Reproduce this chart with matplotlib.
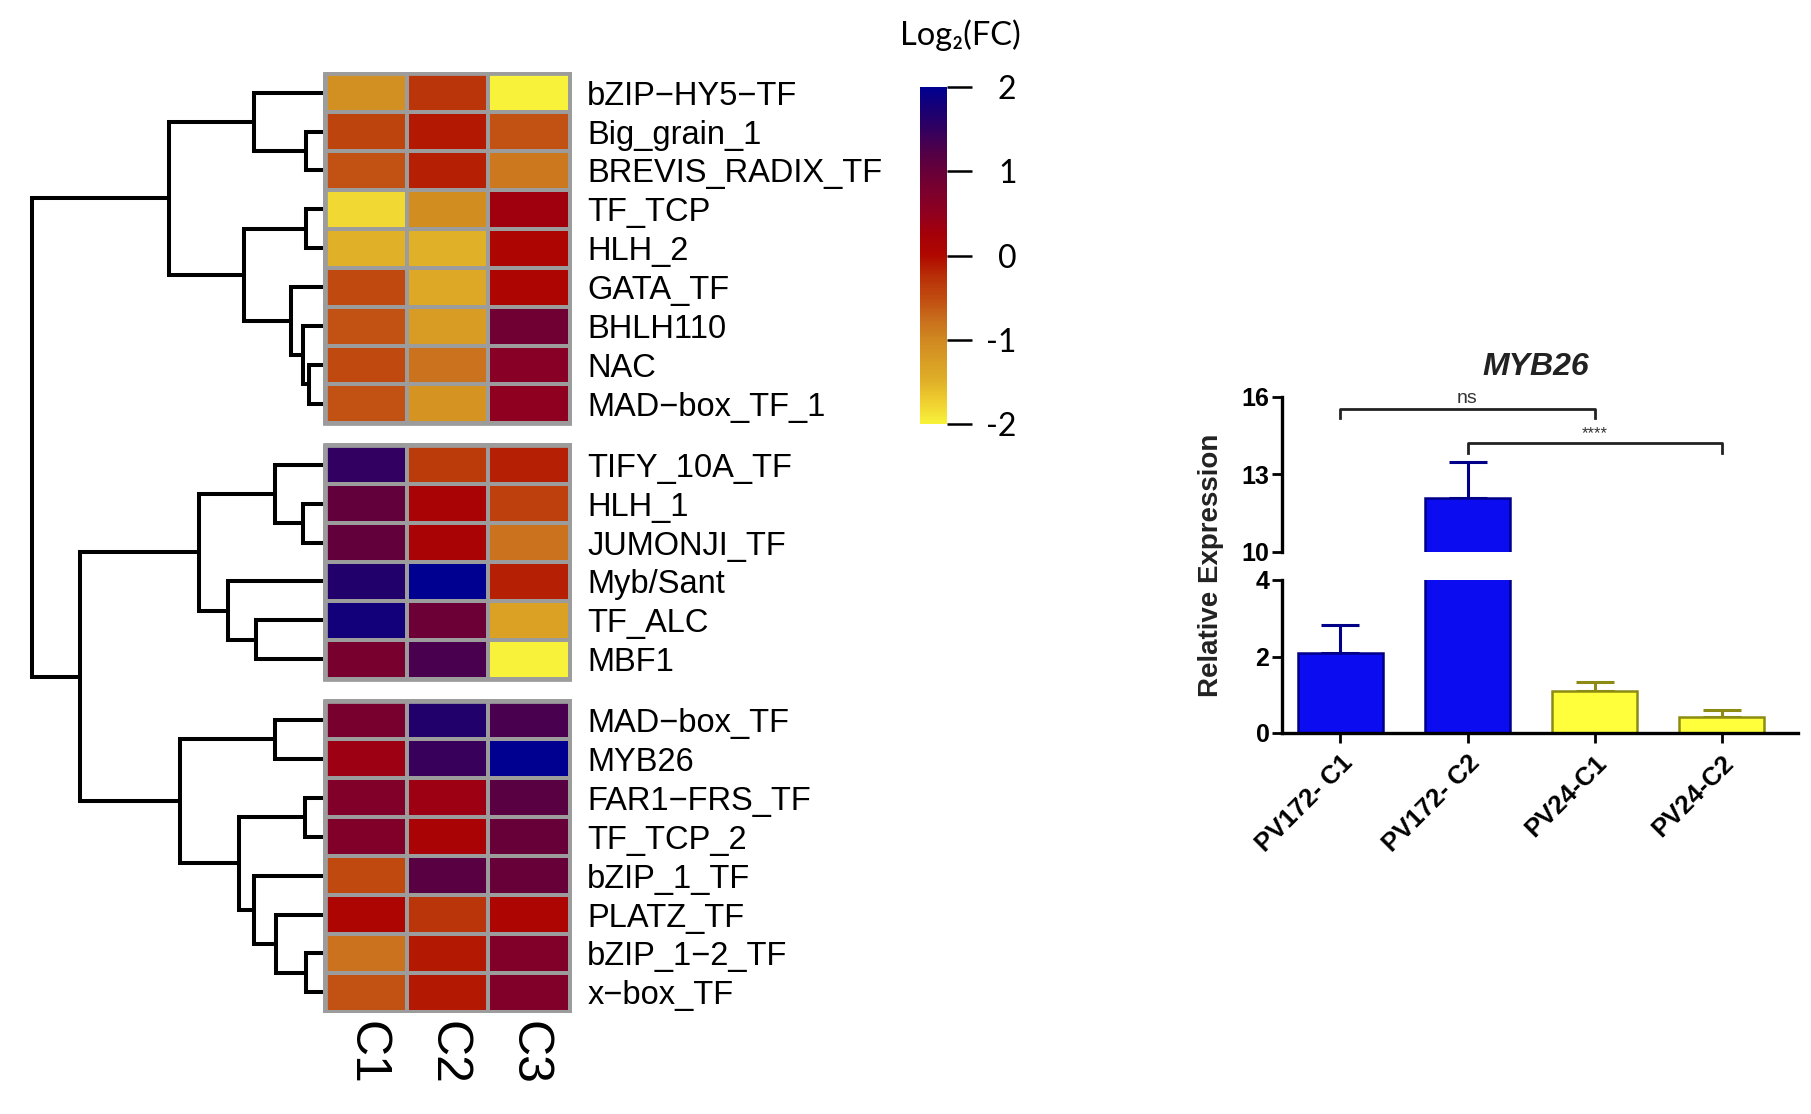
import numpy as np
import matplotlib
matplotlib.use("Agg")
import matplotlib.pyplot as plt
from matplotlib.colors import LinearSegmentedColormap, Normalize
from matplotlib.patches import Rectangle
import matplotlib.cm as cm

plt.rcParams['axes.unicode_minus'] = False

# ---- heatmap data (log2 FC) ----
genes = ['bZIP\u2212HY5\u2212TF', 'Big_grain_1', 'BREVIS_RADIX_TF', 'TF_TCP', 'HLH_2',
         'GATA_TF', 'BHLH110', 'NAC', 'MAD\u2212box_TF_1',
         'TIFY_10A_TF', 'HLH_1', 'JUMONJI_TF', 'Myb/Sant', 'TF_ALC', 'MBF1',
         'MAD\u2212box_TF', 'MYB26', 'FAR1\u2212FRS_TF', 'TF_TCP_2', 'bZIP_1_TF',
         'PLATZ_TF', 'bZIP_1\u22122_TF', 'x\u2212box_TF']
cols = ['C1', 'C2', 'C3']
c1 = [-1.1, -0.45, -0.55, -1.8, -1.5, -0.5, -0.55, -0.5, -0.55,
      1.5, 1.05, 1.05, 1.65, 1.8, 0.8,
      0.8, 0.35, 0.7, 0.7, -0.5, 0.05, -0.8, -0.55]
c2 = [-0.3, -0.1, -0.15, -1.05, -1.5, -1.4, -1.25, -0.8, -1.15,
      -0.35, 0.15, 0.15, 2.0, 0.95, 1.3,
      1.65, 1.45, 0.35, 0.15, 1.15, -0.3, -0.1, -0.1]
c3 = [-2.0, -0.55, -0.85, 0.3, 0.05, 0.05, 0.9, 0.6, 0.5,
      -0.15, -0.4, -0.8, -0.15, -1.3, -2.0,
      1.3, 2.0, 1.15, 1.0, 1.0, 0.05, 0.7, 0.7]
group_sizes = [9, 6, 8]

# dendrogram merges: (child a, child b, height); leaves 0..22, new nodes 23..
merges = [(7, 8, 14), (6, 23, 20), (5, 24, 32), (3, 4, 17), (26, 25, 79),
          (1, 2, 17), (0, 28, 69), (29, 27, 154),
          (10, 11, 20), (9, 31, 48), (13, 14, 67), (12, 33, 95), (32, 34, 124),
          (21, 22, 17), (20, 36, 47), (19, 37, 69), (17, 18, 18), (39, 38, 84),
          (15, 16, 48), (41, 40, 143), (35, 42, 243), (30, 43, 291)]

# ---- bar chart data ----
samples = ['PV172- C1', 'PV172- C2', 'PV24-C1', 'PV24-C2']
means = [2.1, 12.1, 1.1, 0.43]
err_up = [0.72, 1.4, 0.24, 0.16]

W, H = 1811, 1114
fig = plt.figure(figsize=(W/100, H/100), dpi=100)

def px_axes(x0, y0, x1, y1):
    return fig.add_axes([x0/W, 1 - y1/H, (x1-x0)/W, (y1-y0)/H])

anchors = [(-2.0, '#f8f23a'), (-1.75, '#f0d030'), (-1.5, '#e0b028'), (-1.0, '#d08820'),
           (-0.75, '#c86c1c'), (-0.5, '#c04a10'), (-0.25, '#b83008'), (0.0, '#b00800'),
           (0.25, '#a40008'), (0.5, '#900020'), (0.75, '#7c002c'), (1.0, '#680038'),
           (1.25, '#500048'), (1.5, '#320060'), (1.75, '#180074'), (2.0, '#000090')]
cmap = LinearSegmentedColormap.from_list('fc', [((v+2)/4, c) for v, c in anchors])
norm = Normalize(-2, 2)

gap = 0.56
total = len(genes) + gap*(len(group_sizes)-1)
vals = np.array([c1, c2, c3]).T

# row positions with gaps
row_y = []
start = 0
for gi, n in enumerate(group_sizes):
    for i in range(n):
        row_y.append(start + gi*gap + i + 0.5)
    start += n

ax_h = px_axes(323, 72, 572, 1013)
s = 0
for gi, n in enumerate(group_sizes):
    y0 = s + gi*gap
    ye = np.arange(n+1) + y0
    ax_h.pcolormesh(np.arange(4), ye, vals[s:s+n], cmap=cmap, norm=norm,
                    edgecolors='#9c9c9c', linewidth=2.6)
    ax_h.add_patch(Rectangle((0, y0), 3, n, fill=False, ec='#9c9c9c', lw=3.4, zorder=3))
    s += n
ax_h.set_xlim(-0.03, 3.03)
ax_h.set_ylim(total + 0.03, -0.03)
for sp in ax_h.spines.values():
    sp.set_visible(False)
ax_h.yaxis.tick_right()
ax_h.set_yticks(row_y)
ax_h.set_yticklabels(genes, family='Liberation Sans', fontsize=23.5)
ax_h.set_xticks(np.arange(3) + 0.5)
ax_h.set_xticklabels(cols, rotation=-90, family='Liberation Sans', fontsize=36,
                     ha='center', va='top')
ax_h.tick_params(length=0)
ax_h.tick_params(axis='y', pad=11)
ax_h.tick_params(axis='x', pad=6)

# dendrogram
ax_d = px_axes(0, 72, 323, 1013)
node_y = list(row_y)
node_h = [0]*len(genes)
for a, b, h in merges:
    ya, yb = node_y[a], node_y[b]
    ax_d.plot([node_h[a], h, h, node_h[b]], [ya, ya, yb, yb], color='black',
              lw=2.9, solid_joinstyle='miter', solid_capstyle='butt')
    node_y.append((ya + yb)/2)
    node_h.append(h)
ax_d.set_xlim(323, 0)
ax_d.set_ylim(total + 0.03, -0.03)
ax_d.axis('off')

# colorbar
ax_c = px_axes(920, 87, 947, 424)
sm = cm.ScalarMappable(norm=norm, cmap=cmap)
cb = fig.colorbar(sm, cax=ax_c, ticks=[-2, -1, 0, 1, 2])
cb.outline.set_visible(False)
cb.ax.tick_params(length=18, width=1.8, color='black', pad=32)
for t in cb.ax.get_yticklabels():
    t.set_family(['Lato', 'DejaVu Sans'])
    t.set_fontsize(23)
    t.set_ha('right')
fig.text(960/W, 1 - 35/H, 'Log\u2082(FC)', family=['Lato', 'DejaVu Sans'],
         fontsize=23.5, ha='center', va='center')

# bar chart with broken axis
ax_top = px_axes(1282, 397, 1798, 552)
ax_bot = px_axes(1282, 580, 1798, 733)
x = np.arange(len(samples))
face = ['#0c0cf0', '#0c0cf0', '#ffff3c', '#ffff3c']
edge = ['#000088', '#000088', '#8c8c14', '#8c8c14']
for ax in (ax_top, ax_bot):
    ax.bar(x, means, width=0.67, color=face, edgecolor=edge, linewidth=1.8, zorder=2)
    for i in range(len(samples)):
        ax.errorbar(x[i], means[i], yerr=[[0], [err_up[i]]], fmt='none', ecolor=edge[i],
                    elinewidth=2.2, capsize=14, capthick=2.2, zorder=1)
    ax.set_xlim(-0.46, 3.6)
    for sp in ['top', 'right']:
        ax.spines[sp].set_visible(False)
    ax.spines['left'].set_linewidth(2.4)
    ax.spines['bottom'].set_linewidth(2.4)
    ax.tick_params(axis='y', length=7, width=2.0, pad=2)

ax_top.set_ylim(10, 16)
ax_top.set_yticks([10, 13, 16])
ax_top.spines['bottom'].set_visible(False)
ax_top.set_xticks([])
ax_bot.set_ylim(0, 4)
ax_bot.set_yticks([0, 2, 4])
ax_bot.set_xticks(x)
ax_bot.set_xticklabels(samples, rotation=45, ha='right', rotation_mode='anchor',
                       family='Liberation Sans', fontweight='bold', fontsize=18.5)
ax_bot.tick_params(axis='x', length=7, width=2.0, pad=6)
for ax in (ax_top, ax_bot):
    for t in ax.get_yticklabels():
        t.set_family('Liberation Sans')
        t.set_fontweight('bold')
        t.set_fontsize(18)

# significance brackets
ax_top.plot([0, 0, 2, 2], [15.19, 15.53, 15.53, 15.19], color='#222222', lw=2.0,
            clip_on=False)
ax_top.text(1, 15.62, 'ns', ha='center', va='bottom', fontsize=14,
            family='Liberation Sans', color='#333333')
ax_top.plot([1, 1, 3, 3], [13.85, 14.22, 14.22, 13.85], color='#222222', lw=2.0,
            clip_on=False)
ax_top.text(2, 14.28, '****', ha='center', va='bottom', fontsize=12,
            family='Liberation Sans', color='#333333')

fig.text(1536/W, 1 - 367/H, 'MYB26', ha='center', va='center', fontsize=23,
         family='Liberation Sans', fontweight='bold', style='italic', color='#222222')
fig.text(1211/W, 1 - 565/H, 'Relative Expression', rotation=90, ha='center',
         va='center', fontsize=20, family='Liberation Sans', fontweight='bold',
         color='#222222')

fig.savefig('out.png', dpi=100)
